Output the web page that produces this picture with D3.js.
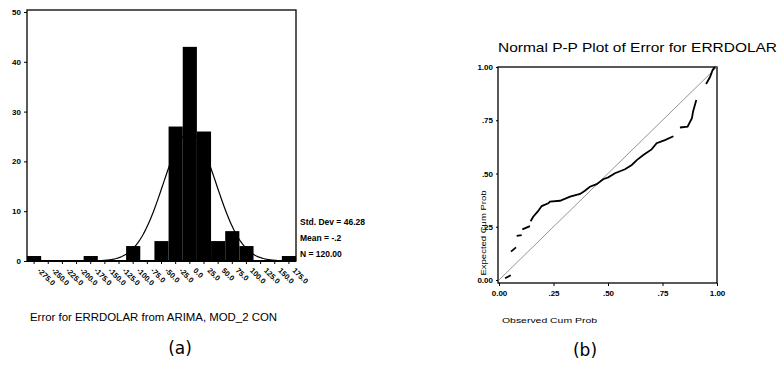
<!DOCTYPE html>
<html lang="en">
<head>
<meta charset="UTF-8">
<title>Error for ERRDOLAR</title>
<style>
* { margin: 0; padding: 0; box-sizing: border-box; }
body { background: #fff; overflow: hidden; }
svg { display: block; font-family: "Liberation Sans", Arial, sans-serif; }
.tick-lbl { font-size: 8px; font-weight: bold; fill: #000; }
.bin-lbl { font-size: 7.5px; font-weight: bold; fill: #000; }
.stat { font-size: 8.5px; font-weight: bold; fill: #000; }
</style>
</head>
<body>
<div id="chart"></div>
<script src="https://cdn.jsdelivr.net/npm/d3@7"></script>
<script>
// Histogram (a): bin centres and counts
var binCenters = [-275, -250, -225, -200, -175, -150, -125, -100, -75, -50, -25, 0, 25, 50, 75, 100, 125, 150, 175];
var binCounts  = [1, 0, 0, 0, 1, 0, 0, 3, 0, 4, 27, 43, 26, 4, 6, 3, 0, 0, 1];
var binLabels  = ["-275.0", "-250.0", "-225.0", "-200.0", "-175.0", "-150.0", "-125.0", "-100.0", "-75.0", "-50.0",
                  "-25.0", "0.0", "25.0", "50.0", "75.0", "100.0", "125.0", "150.0", "175.0"];
var histYTicks = [0, 10, 20, 30, 40, 50];
var statLines  = ["Std. Dev = 46.28", "Mean = -.2", "N = 120.00"];
var stdDev = 46.28, mean = -0.2, nCases = 120, binWidth = 25;

// P-P plot (b): observed vs expected cum prob, null = gap in the trace
var ppObserved = [0.028, 0.054, null,
  0.055, 0.078, null,
  0.081, 0.104, null,
  0.107, 0.142, null,
  0.145, 0.157, 0.178, 0.196, 0.226, 0.234, 0.28, 0.326, 0.372, 0.394, 0.417, 0.448, 0.478, 0.501,
  0.532, 0.578, 0.609, 0.632, 0.662, 0.70, 0.723, 0.761, 0.80, null,
  0.83, 0.865, 0.885, 0.89, 0.905, null,
  0.95, 0.968, 0.98, 0.99];
var ppExpected = [0.008, 0.022, null,
  0.133, 0.153, null,
  0.207, 0.211, null,
  0.238, 0.253, null,
  0.276, 0.297, 0.322, 0.347, 0.36, 0.368, 0.372, 0.391, 0.404, 0.419, 0.438, 0.45, 0.473, 0.482,
  0.501, 0.52, 0.54, 0.563, 0.587, 0.613, 0.642, 0.657, 0.675, null,
  0.716, 0.72, 0.76, 0.79, 0.845, null,
  0.92, 0.953, 0.986, 1.0];
var ppTicks = [0, 0.25, 0.5, 0.75, 1];
var ppTickLabels = ["0.00", ".25", ".50", ".75", "1.00"];

var width = 781, height = 367;
var svg = d3.select("#chart").append("svg").attr("width", width).attr("height", height);

// ---------- (a) histogram ----------
var hx = d3.scaleLinear().domain([-287.5, 187.5]).range([27, 296]);
var hy = d3.scaleLinear().domain([0, 50]).range([261, 12]);
var ga = svg.append("g");

ga.append("g").selectAll("rect").data(binCounts).join("rect")
  .attr("x", function(d, i) { return hx(binCenters[i] - binWidth / 2); })
  .attr("width", function(d, i) { return hx(binCenters[i] + binWidth / 2) - hx(binCenters[i] - binWidth / 2); })
  .attr("y", function(d) { return hy(d); })
  .attr("height", function(d) { return hy(0) - hy(d); })
  .attr("fill", "#000");

// fitted normal curve from the reported statistics
var curveXs = d3.range(-287.5, 188, 2.5);
var normal = d3.line()
  .x(function(v) { return hx(v); })
  .y(function(v) {
    var z = (v - mean) / stdDev;
    return hy(nCases * binWidth / (stdDev * Math.sqrt(2 * Math.PI)) * Math.exp(-0.5 * z * z));
  });
ga.append("path").datum(curveXs).attr("d", normal)
  .attr("fill", "none").attr("stroke", "#000").attr("stroke-width", 1.2);

// frame
ga.append("rect").attr("x", hx.range()[0]).attr("y", 10)
  .attr("width", hx.range()[1] - hx.range()[0]).attr("height", hy(0) - 10)
  .attr("fill", "none").attr("stroke", "#000").attr("stroke-width", 1.3);
ga.append("line").attr("x1", hx.range()[0]).attr("x2", hx.range()[1])
  .attr("y1", hy(0)).attr("y2", hy(0)).attr("stroke", "#000").attr("stroke-width", 2);

// y axis
var yAxisA = d3.axisLeft(hy).tickValues(histYTicks).tickSize(3).tickFormat(d3.format("d"));
ga.append("g").attr("transform", "translate(" + hx.range()[0] + ",0)").call(yAxisA)
  .call(function(g) {
    g.select(".domain").remove();
    g.selectAll("text").attr("class", "tick-lbl").attr("font-size", null).attr("font-family", null);
  });

// x ticks and rotated labels
ga.append("g").selectAll("line").data(binCenters).join("line")
  .attr("x1", function(d) { return hx(d); }).attr("x2", function(d) { return hx(d); })
  .attr("y1", hy(0)).attr("y2", hy(0) + 3).attr("stroke", "#000");
ga.append("g").selectAll("text").data(binLabels).join("text")
  .attr("class", "bin-lbl")
  .attr("transform", function(d, i) { return "translate(" + (hx(binCenters[i]) + 3) + "," + (hy(0) + 10) + ") rotate(45)"; })
  .text(function(d) { return d; });

ga.append("g").selectAll("text").data(statLines).join("text")
  .attr("class", "stat")
  .attr("x", 300)
  .attr("y", function(d, i) { return 225 + i * 16; })
  .text(function(d) { return d; });

ga.append("text").attr("x", 30).attr("y", 321)
  .attr("font-size", 10.5).attr("textLength", 247).attr("lengthAdjust", "spacingAndGlyphs")
  .text("Error for ERRDOLAR from ARIMA, MOD_2 CON");

svg.append("text").attr("x", 180).attr("y", 354).attr("text-anchor", "middle")
  .attr("font-family", "DejaVu Sans, sans-serif").attr("font-size", 17).text("(a)");

// ---------- (b) P-P plot ----------
var px = d3.scaleLinear().domain([0, 1]).range([499, 717]);
var py = d3.scaleLinear().domain([0, 1]).range([280, 67]);
var gb = svg.append("g");

gb.append("text").attr("x", 498).attr("y", 52)
  .attr("font-size", 13).attr("textLength", 279).attr("lengthAdjust", "spacingAndGlyphs")
  .text("Normal P-P Plot of Error for ERRDOLAR");

gb.append("rect").attr("x", 498).attr("y", 67).attr("width", 219).attr("height", 216)
  .attr("fill", "none").attr("stroke", "#000").attr("stroke-width", 1.3);

// reference diagonal
gb.append("line").attr("x1", px(0)).attr("y1", py(0)).attr("x2", px(1)).attr("y2", py(1))
  .attr("stroke", "#666").attr("stroke-width", 0.7);

var ppPts = ppObserved.map(function(o, i) { return [o, ppExpected[i]]; });
var ppLine = d3.line()
  .defined(function(d) { return d[0] !== null; })
  .x(function(d) { return px(d[0]); })
  .y(function(d) { return py(d[1]); });
gb.append("path").datum(ppPts).attr("d", ppLine)
  .attr("fill", "none").attr("stroke", "#000").attr("stroke-width", 1.8);

var xAxisB = d3.axisBottom(px).tickValues(ppTicks).tickSize(3)
  .tickFormat(function(d, i) { return ppTickLabels[i]; });
gb.append("g").attr("transform", "translate(0,283)").call(xAxisB)
  .call(function(g) {
    g.select(".domain").remove();
    g.selectAll("text").attr("class", "tick-lbl").attr("font-size", null).attr("font-family", null).attr("dy", "0.9em");
  });
var yAxisB = d3.axisLeft(py).tickValues(ppTicks).tickSize(2)
  .tickFormat(function(d, i) { return ppTickLabels[i]; });
gb.append("g").attr("transform", "translate(498,0)").call(yAxisB)
  .call(function(g) {
    g.select(".domain").remove();
    g.selectAll("text").attr("class", "tick-lbl").attr("font-size", null).attr("font-family", null);
  });

gb.append("text").attr("x", 502).attr("y", 323)
  .attr("font-size", 8).attr("textLength", 95).attr("lengthAdjust", "spacingAndGlyphs")
  .text("Observed Cum Prob");
gb.append("text").attr("transform", "translate(486,233) rotate(-90)").attr("text-anchor", "middle")
  .attr("font-size", 8).attr("textLength", 85).attr("lengthAdjust", "spacingAndGlyphs")
  .text("Expected Cum Prob");

svg.append("text").attr("x", 585).attr("y", 356).attr("text-anchor", "middle")
  .attr("font-family", "DejaVu Sans, sans-serif").attr("font-size", 17).text("(b)");
</script>
</body>
</html>
